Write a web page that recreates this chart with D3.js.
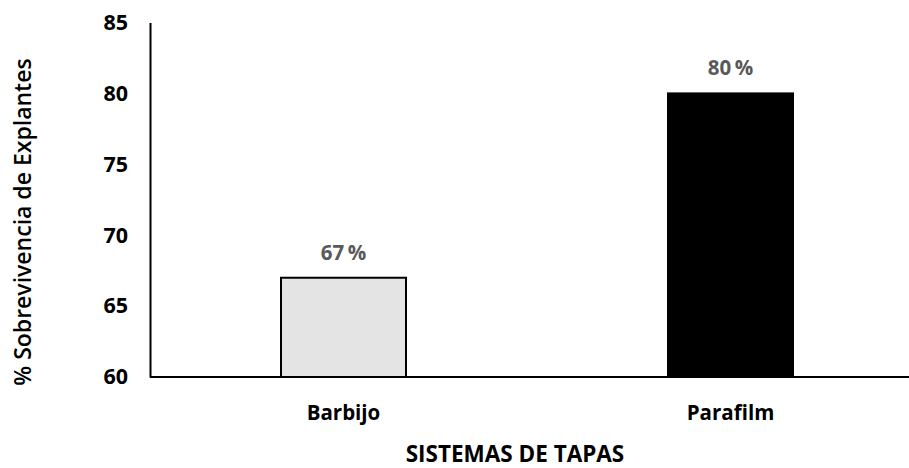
<!DOCTYPE html>
<html><head><meta charset="utf-8">
<script src="https://cdn.jsdelivr.net/npm/d3@7"></script>
<style>body{margin:0;background:#fff}</style>
</head><body>
<svg id="c" width="909" height="468"></svg>
<script>
const categories = ["Barbijo", "Parafilm"];
const values = [67, 80];
const valueLabels = ["67\u2009%", "80\u2009%"];
const yTicks = [60, 65, 70, 75, 80, 85];
const fills = ["#e4e4e4", "#000000"];

const svg = d3.select("#c");
const font = "'Open Sans', sans-serif";
const x = d3.scaleBand().domain(categories).range([150, 924]).paddingInner(0.677).paddingOuter(0.3385);
const y = d3.scaleLinear().domain([60, 85]).range([377, 22.5]);

// bars
svg.selectAll("rect.bar").data(values).enter().append("rect")
  .attr("x", (d,i) => x(categories[i]))
  .attr("y", d => y(d))
  .attr("width", x.bandwidth())
  .attr("height", d => y(60) - y(d))
  .attr("fill", (d,i) => fills[i])
  .attr("stroke", "#000").attr("stroke-width", 2);

// y axis
const ya = svg.append("g").attr("transform", "translate(150,0)")
  .call(d3.axisLeft(y).tickValues(yTicks).tickSize(0).tickPadding(22));
ya.select(".domain").attr("stroke", "#000").attr("stroke-width", 2);
ya.selectAll("text").attr("font-family", font).attr("font-weight", 700).attr("font-size", 21.5).attr("fill", "#000");

// x axis
const xa = svg.append("g").attr("transform", "translate(0,377)")
  .call(d3.axisBottom(x).tickSize(0).tickPadding(28));
xa.select(".domain").remove();
svg.append("line").attr("x1", 150).attr("x2", 909).attr("y1", y(60)).attr("y2", y(60))
  .attr("stroke", "#000").attr("stroke-width", 2);
xa.selectAll("text").attr("font-family", font).attr("font-weight", 700).attr("font-size", 20.5).attr("fill", "#000");

// value labels
svg.selectAll("text.vl").data(values).enter().append("text")
  .attr("class", "vl")
  .attr("x", (d,i) => x(categories[i]) + x.bandwidth()/2)
  .attr("y", d => y(d) - 18)
  .attr("text-anchor", "middle")
  .attr("font-family", font).attr("font-weight", 700).attr("font-size", 20.5)
  .attr("fill", "#595959")
  .text((d,i) => valueLabels[i]);

// axis titles
svg.append("text").attr("x", 515).attr("y", 462).attr("text-anchor", "middle")
  .attr("font-family", font).attr("font-weight", 700).attr("font-size", 22.5).attr("fill", "#000")
  .text("SISTEMAS DE TAPAS");
svg.append("text").attr("transform", "translate(31,222) rotate(-90)").attr("text-anchor", "middle")
  .attr("font-family", font).attr("font-weight", 600).attr("font-size", 23).attr("fill", "#000")
  .text("% Sobrevivencia de Explantes");
</script>
</body></html>
